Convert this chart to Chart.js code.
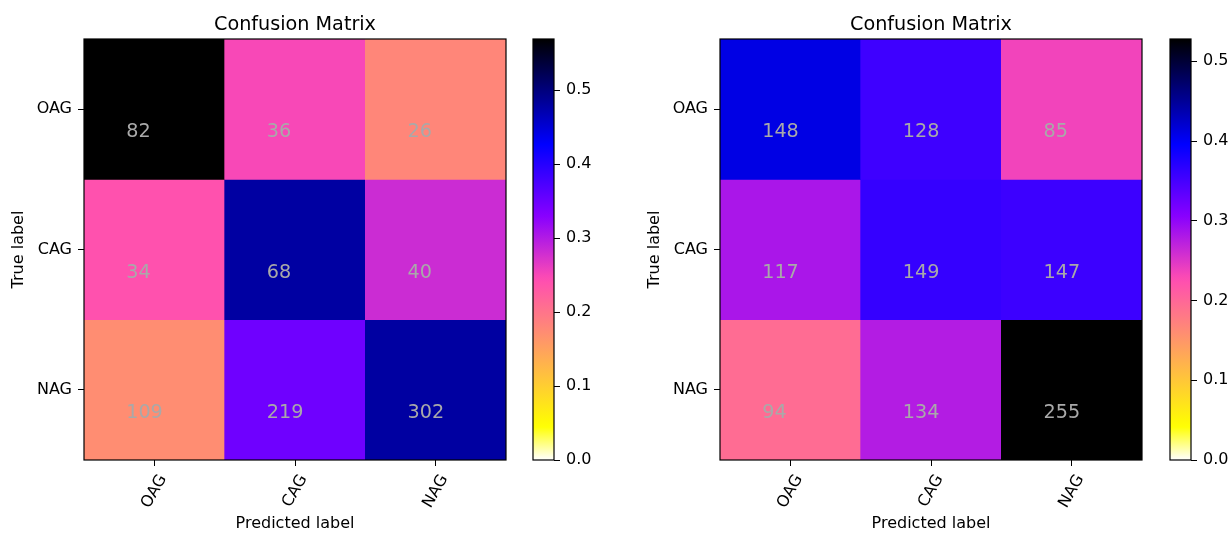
<!DOCTYPE html>
<html><head><meta charset="utf-8">
<script src="https://cdn.jsdelivr.net/npm/chart.js@4.4.0/dist/chart.umd.min.js"></script>
<style>
html,body{margin:0;padding:0;background:#fff;width:1232px;height:533px;overflow:hidden;}
canvas{position:absolute;top:0;}
</style></head><body>
<canvas id="hmL" width="520" height="533" style="left:0px"></canvas>
<canvas id="cbL" width="100" height="533" style="left:520px"></canvas>
<canvas id="hmR" width="520" height="533" style="left:636px"></canvas>
<canvas id="cbR" width="74" height="533" style="left:1158px"></canvas>
<script>
// ---- data ----
const predictedLabels = ['OAG', 'CAG', 'NAG'];
const trueLabels = ['OAG', 'CAG', 'NAG'];
const leftOAG = [82, 36, 26];
const leftCAG = [34, 68, 40];
const leftNAG = [109, 219, 302];
const rightOAG = [148, 128, 85];
const rightCAG = [117, 149, 147];
const rightNAG = [94, 134, 255];
const colorbarTicks = [0.0, 0.1, 0.2, 0.3, 0.4, 0.5];
const chartTitle = 'Confusion Matrix';
const xAxisTitle = 'Predicted label';
const yAxisTitle = 'True label';

Chart.defaults.font.family = '"DejaVu Sans", sans-serif';
Chart.defaults.color = '#000';

// gnuplot2_r colormap
function clamp(v) { return Math.max(0, Math.min(1, v)); }
function gnuplot2r(value, vmax) {
  const x = 1 - clamp(value / vmax);
  const r = clamp(x / 0.32 - 0.78125);
  const g = clamp(2 * x - 0.84);
  let b;
  if (x < 0.25) b = 4 * x; else if (x < 0.92) b = -2 * x + 1.84; else b = x / 0.08 - 11.5;
  b = clamp(b);
  return `rgb(${Math.round(r * 255)},${Math.round(g * 255)},${Math.round(b * 255)})`;
}

function normalizeRows(rows) {
  return rows.map(row => { const s = row.reduce((a, b) => a + b, 0); return row.map(v => v / s); });
}

function makeHeatmap(id, rows) {
  const norm = normalizeRows(rows);
  const vmax = Math.max(...norm.flat());
  const datasets = rows.map((row, r) => ({
    data: row.map(() => [r, r + 1]),
    backgroundColor: norm[r].map(v => gnuplot2r(v, vmax)),
    borderWidth: 0,
    barPercentage: 1,
    categoryPercentage: 1,
    grouped: false
  }));
  const decor = {
    id: 'decor',
    afterDatasetsDraw(chart) {
      const { ctx, chartArea: a, scales: { x, y } } = chart;
      const cw = x.getPixelForValue(1) - x.getPixelForValue(0);
      ctx.save();
      // cell counts
      ctx.font = '19.2px "DejaVu Sans"';
      ctx.fillStyle = '#a9a9a9';
      ctx.textAlign = 'left';
      ctx.textBaseline = 'alphabetic';
      rows.forEach((row, r) => row.forEach((v, c) => {
        ctx.fillText(String(v), x.getPixelForValue(c) - 0.2 * cw, y.getPixelForValue(r + 0.7));
      }));
      // frame
      ctx.strokeStyle = '#000';
      ctx.lineWidth = 1.2;
      ctx.strokeRect(a.left, a.top, a.right - a.left, a.bottom - a.top);
      // title
      ctx.fillStyle = '#000';
      ctx.font = '19.2px "DejaVu Sans"';
      ctx.textAlign = 'center';
      ctx.fillText(chartTitle, (a.left + a.right) / 2, a.top - 9);
      // rotated x tick labels (matplotlib style, centered bbox)
      ctx.font = '16px "DejaVu Sans"';
      ctx.textBaseline = 'middle';
      const ang = Math.PI / 3;
      predictedLabels.forEach((lab, i) => {
        const w = ctx.measureText(lab).width;
        const h = 16 * 1.164;
        const H = w * Math.sin(ang) + h * Math.cos(ang);
        const cx = x.getPixelForValue(i);
        const cy = a.bottom + 6 + 5.6 + H / 2;
        ctx.save();
        ctx.translate(cx, cy);
        ctx.rotate(-ang);
        ctx.fillText(lab, 0, 0);
        ctx.restore();
      });
      ctx.restore();
    }
  };
  new Chart(document.getElementById(id), {
    type: 'bar',
    data: { labels: predictedLabels, datasets },
    options: {
      responsive: false,
      animation: false,
      devicePixelRatio: 1,
      layout: { padding: { left: 0, right: 14, top: 39, bottom: 0 } },
      plugins: { legend: { display: false }, tooltip: { enabled: false }, title: { display: false } },
      scales: {
        x: {
          type: 'category',
          offset: true,
          grid: { display: true, offset: false, drawOnChartArea: false, drawTicks: true, tickLength: 6, color: '#000', tickColor: '#000', lineWidth: 1 },
          border: { display: false },
          ticks: { display: false },
          title: { display: true, text: xAxisTitle, font: { size: 16 }, color: '#000', padding: { top: 0, bottom: 0 } },
          afterFit(s) { s.height = 73; }
        },
        y: {
          type: 'linear',
          min: 0,
          max: trueLabels.length,
          reverse: true,
          grid: { display: true, drawOnChartArea: false, drawTicks: true, tickLength: 6, color: '#000', tickColor: '#000', lineWidth: 1 },
          border: { display: false },
          afterBuildTicks(s) { s.ticks = trueLabels.map((_, i) => ({ value: i + 0.5 })); },
          ticks: { font: { size: 16 }, color: '#000', padding: 6, autoSkip: false, callback: v => trueLabels[Math.floor(v)] },
          title: { display: true, text: yAxisTitle, font: { size: 16 }, color: '#000', padding: { top: 9, bottom: 0 } },
          afterFit(s) { s.width = 84; }
        }
      }
    },
    plugins: [decor]
  });
  return vmax;
}

function makeColorbar(id, vmax, padLeft, axisWidth) {
  const frame = {
    id: 'frame',
    afterDatasetsDraw(chart) {
      const { ctx, chartArea: a } = chart;
      ctx.save();
      ctx.strokeStyle = '#000';
      ctx.lineWidth = 1.2;
      ctx.strokeRect(a.left, a.top, a.right - a.left, a.bottom - a.top);
      ctx.restore();
    }
  };
  new Chart(document.getElementById(id), {
    type: 'bar',
    data: {
      labels: [''],
      datasets: [{
        data: [[0, vmax]],
        backgroundColor(c) {
          const a = c.chart.chartArea;
          if (!a) return '#000';
          const g = c.chart.ctx.createLinearGradient(0, a.bottom, 0, a.top);
          const n = 64;
          for (let i = 0; i <= n; i++) g.addColorStop(i / n, gnuplot2r(vmax * i / n, vmax));
          return g;
        },
        borderWidth: 0,
        barPercentage: 1,
        categoryPercentage: 1
      }]
    },
    options: {
      responsive: false,
      animation: false,
      devicePixelRatio: 1,
      layout: { padding: { left: padLeft, right: 0, top: 39, bottom: 73 } },
      plugins: { legend: { display: false }, tooltip: { enabled: false } },
      scales: {
        x: { display: false, offset: true },
        y: {
          type: 'linear',
          position: 'right',
          min: 0,
          max: vmax,
          grid: { display: true, drawOnChartArea: false, drawTicks: true, tickLength: 6, color: '#000', tickColor: '#000', lineWidth: 1 },
          border: { display: false },
          afterBuildTicks(s) { s.ticks = colorbarTicks.map(v => ({ value: v })); },
          ticks: { font: { size: 16 }, color: '#000', padding: 6, autoSkip: false, callback: v => Number(v).toFixed(1) },
          afterFit(s) { s.width = axisWidth; }
        }
      }
    },
    plugins: [frame]
  });
}

const vmaxL = makeHeatmap('hmL', [leftOAG, leftCAG, leftNAG]);
const vmaxR = makeHeatmap('hmR', [rightOAG, rightCAG, rightNAG]);
makeColorbar('cbL', vmaxL, 13, 66);
makeColorbar('cbR', vmaxR, 12, 41);
</script>
</body></html>
